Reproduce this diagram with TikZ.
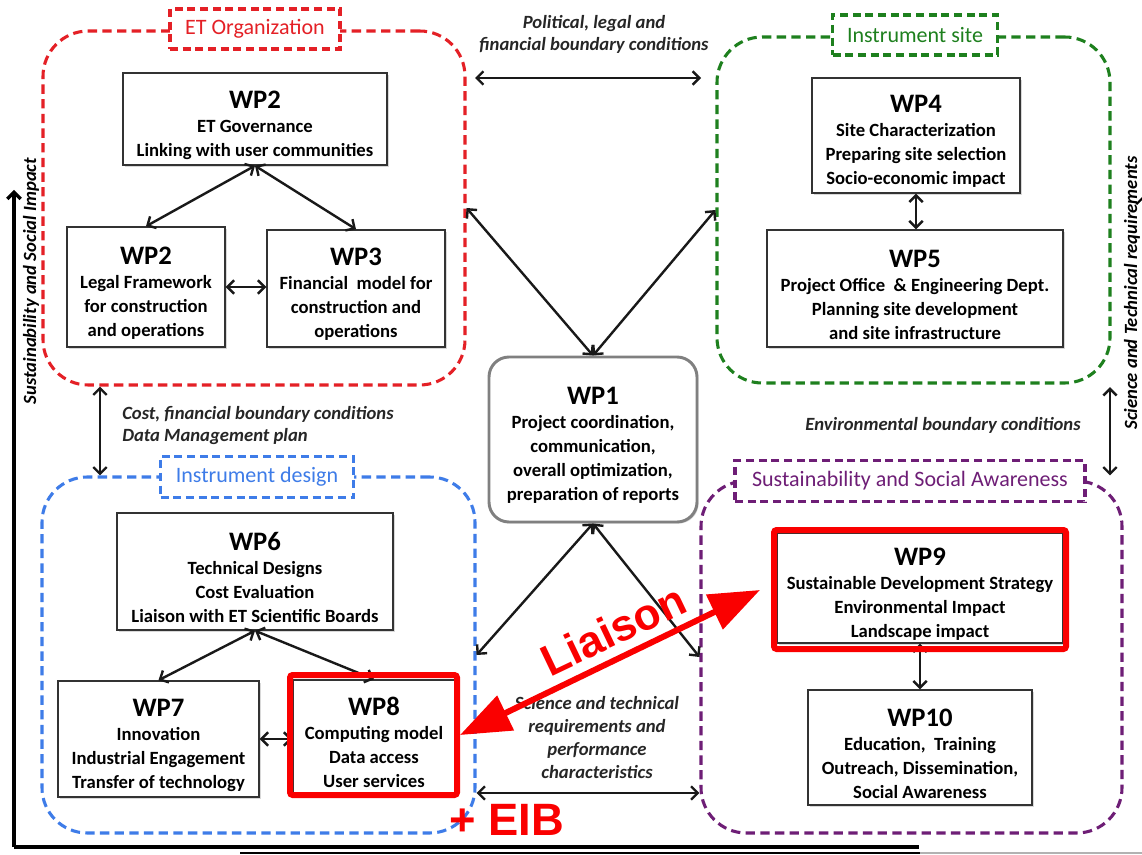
\documentclass[tikz,border=0pt]{standalone}
\usepackage{fontspec}
\setmainfont{Carlito}
\newfontfamily\arialfont{Liberation Sans}
\usetikzlibrary{arrows.meta,shadows}

\definecolor{orgred}{RGB}{228,32,38}
\definecolor{sitegreen}{RGB}{30,128,30}
\definecolor{designblue}{RGB}{62,124,232}
\definecolor{sustpurple}{RGB}{110,30,118}
\definecolor{alertred}{RGB}{250,0,0}

\newcommand\wpbodyfont{\fontsize{14}{18}\selectfont\bfseries}
\newcommand\wptagfont{\fontsize{16.5}{18}\selectfont}
\newcommand\wpnotefont{\fontsize{14}{16.5}\selectfont\bfseries\itshape}
\newcommand\wphead[1]{{\fontsize{20}{18}\selectfont\rule{0pt}{22pt}#1}}

\tikzset{
  boxsize/.style 2 args={minimum width=#1*0.75pt, minimum height=#2*0.75pt},
  wp/.style={draw=black!80, line width=1.1pt, fill=white, align=center,
    inner sep=0pt, font=\wpbodyfont,
    drop shadow={shadow xshift=1.2pt, shadow yshift=-1.2pt, opacity=0.3}},
  group/.style={draw=#1, line width=2.3pt, dash pattern=on 7pt off 4pt,
    rounded corners=34pt, inner sep=0pt},
  tag/.style={draw=#1, text=#1, fill=white, line width=2.3pt,
    dash pattern=on 6pt off 3.5pt, inner sep=0pt, font=\wptagfont},
  link/.style={line width=1.8pt, draw=black!90,
    {Straight Barb[length=5pt,width=10pt]}-{Straight Barb[length=5pt,width=10pt]}},
  note/.style={font=\wpnotefont, align=center, inner sep=0pt, text=black!85},
  highlight/.style={draw=alertred, line width=4.5pt, inner sep=0pt, rounded corners=2pt},
  liaisonline/.style={draw=alertred, line width=4.5pt,
    {Triangle[length=38pt,width=28pt]}-{Triangle[length=38pt,width=28pt]}},
  axis/.style={line width=2.4pt, draw=black},
}

\begin{document}
\begin{tikzpicture}[x=0.75pt,y=-0.75pt]
\useasboundingbox (0,0) rectangle (1142,855);
\clip (0,0) rectangle (1142,855);
\fill[white] (0,0) rectangle (1142,855);

% axes along the left and bottom edges
\coordinate (axO) at (14,847);
\coordinate (axY) at (14,190);
\coordinate (axX) at (919,847);
\coordinate (baseA) at (240,853);
\coordinate (baseB) at (920,853);
\coordinate (baseC) at (1142,853);
\coordinate (rtail) at (1143,240);
\coordinate (rtip) at (1143,196);
\draw[axis, -{Straight Barb[length=5pt,width=10pt]}] (axO) -- (axY);
\draw[axis] (axO) -- (axX);
\draw[line width=1.8pt] (baseA) -- (baseB);
\draw[line width=1.5pt, black!30] (baseB) -- (baseC);
\draw[line width=1.6pt, -{Straight Barb[length=5pt,width=10pt]}] (rtail) -- (rtip);

\node[rotate=90, font=\wpnotefont, inner sep=0pt] (axleft) at (31,281)
  {Sustainability and Social Impact};
\node[rotate=90, font=\wpnotefont, inner sep=0pt] (axright) at (1132,293)
  {Science and Technical requirements};

% the four groups
\node[group=orgred, boxsize={422}{354}] (org) at (254,208) {};
\node[group=sitegreen, boxsize={393}{346}] (site) at (913.5,210) {};
\node[group=designblue, boxsize={433}{356}] (design) at (258.5,655) {};
\node[group=sustpurple, boxsize={421}{352}] (sust) at (911.5,657) {};

\node[tag=orgred, boxsize={170}{40}] (orgtag) at (255,29) {ET Organization};
\node[tag=sitegreen, boxsize={165}{40}] (sitetag) at (915,35) {Instrument site};
\node[tag=designblue, boxsize={193}{41}] (designtag) at (257,477) {Instrument design};
\node[tag=sustpurple, boxsize={350}{41}] (susttag) at (910,481)
  {Sustainability and Social Awareness};

% work packages
\node[wp, boxsize={264}{92}] (wp2a) at (255,119)
  {\wphead{WP2}\\ET Governance\\Linking with user communities};
\node[wp, boxsize={158}{120}] (wp2b) at (146,287)
  {\wphead{WP2}\\Legal Framework\\for construction\\and operations};
\node[wp, boxsize={178}{117}] (wp3) at (356,288.5)
  {\wphead{WP3}\\Financial\ \ model for\\construction and\\operations};
\node[wp, boxsize={208}{115}] (wp4) at (916,135.5)
  {\wphead{WP4}\\Site Characterization\\Preparing site selection\\Socio-economic impact};
\node[wp, boxsize={296}{117}] (wp5) at (915,288.5)
  {\wphead{WP5}\\Project Office\ \ \& Engineering Dept.\\Planning site development\\and site infrastructure};
\node[wp, draw=black!50, line width=2.2pt, rounded corners=15pt, boxsize={208}{165}] (wp1) at (593,439.5)
  {\wphead{WP1}\\Project coordination,\\communication,\\overall optimization,\\preparation of reports};
\node[wp, boxsize={276}{117}] (wp6) at (255,571.5)
  {\wphead{WP6}\\Technical Designs\\Cost Evaluation\\Liaison with ET Scientific Boards};
\node[wp, boxsize={201}{116}] (wp7) at (158.5,739)
  {\wphead{WP7}\\Innovation\\Industrial Engagement\\Transfer of technology};
\node[wp, boxsize={162}{114}] (wp8) at (374,737)
  {\wphead{WP8}\\Computing model\\Data access\\User services};
\node[wp, boxsize={286}{110}] (wp9) at (920,588)
  {\wphead{WP9}\\Sustainable Development Strategy\\Environmental Impact\\Landscape impact};
\node[wp, boxsize={224}{115}] (wp10) at (920,747.5)
  {\wphead{WP10}\\Education,\ \ Training\\Outreach, Dissemination,\\Social Awareness};

% links inside the groups
\draw[link] (wp2a.south) -- (wp2b.north);
\draw[link] (wp2a.south) -- (wp3.north);
\draw[link] (wp2b.east) -- (wp2b.east -| wp3.west);
\draw[link] (wp4.south) -- (wp4.south |- wp5.north);
\draw[link] (wp6.south) -- (wp7.north);
\draw[link] (wp6.south) -- (wp8.north);
\draw[link] (wp7.east) -- (wp7.east -| wp8.west);
\draw[link] (wp9.south) -- (wp9.south |- wp10.north);

% links between the groups
\coordinate (polL) at (475,78);
\coordinate (polR) at (701,78);
\draw[link] (polL) -- (polR);
\draw[link] (org.east) -- (wp1.north);
\draw[link] (site.west) -- (wp1.north);
\draw[link] (wp1.south) -- (design.east);
\draw[link] (wp1.south) -- (sust.west);
\draw[link] (org.south -| 100,0) -- (design.north -| 100,0);
\draw[link, shorten <=2pt, shorten >=3pt] (site.south -| 1110,0) -- (sust.north -| 1110,0);
\draw[link] (design.east |- 0,793) -- (sust.west |- 0,793);

% boundary condition notes
\node[note] (polnote) at (594,34) {Political, legal and\\financial boundary conditions};
\node[note, align=left, anchor=west] (costnote) at (122,426)
  {Cost, financial boundary conditions\\Data Management plan};
\node[note] (envnote) at (943,425) {Environmental boundary conditions};
\node[note, font=\fontsize{14}{17.25}\selectfont\bfseries\itshape] (scinote) at (597,738)
  {Science and technical\\requirements and\\performance\\characteristics};

% highlighted packages and the liaison between them
\node[highlight, boxsize={167}{120}] (wp8hl) at (373.5,735) {};
\node[highlight, boxsize={292}{119}] (wp9hl) at (920,589.5) {};
\coordinate (liaR) at (760,590);
\draw[liaisonline] (wp8hl.east) -- (liaR);
\node[rotate=25.5, inner sep=0pt, text=alertred,
  font=\arialfont\bfseries\fontsize{33}{33}\selectfont] (liaison) at (613,630) {Liaison};
\node[inner sep=0pt, text=alertred,
  font=\arialfont\bfseries\fontsize{34}{34}\selectfont] (eib) at (507,820) {+ EIB};
\end{tikzpicture}
\end{document}
